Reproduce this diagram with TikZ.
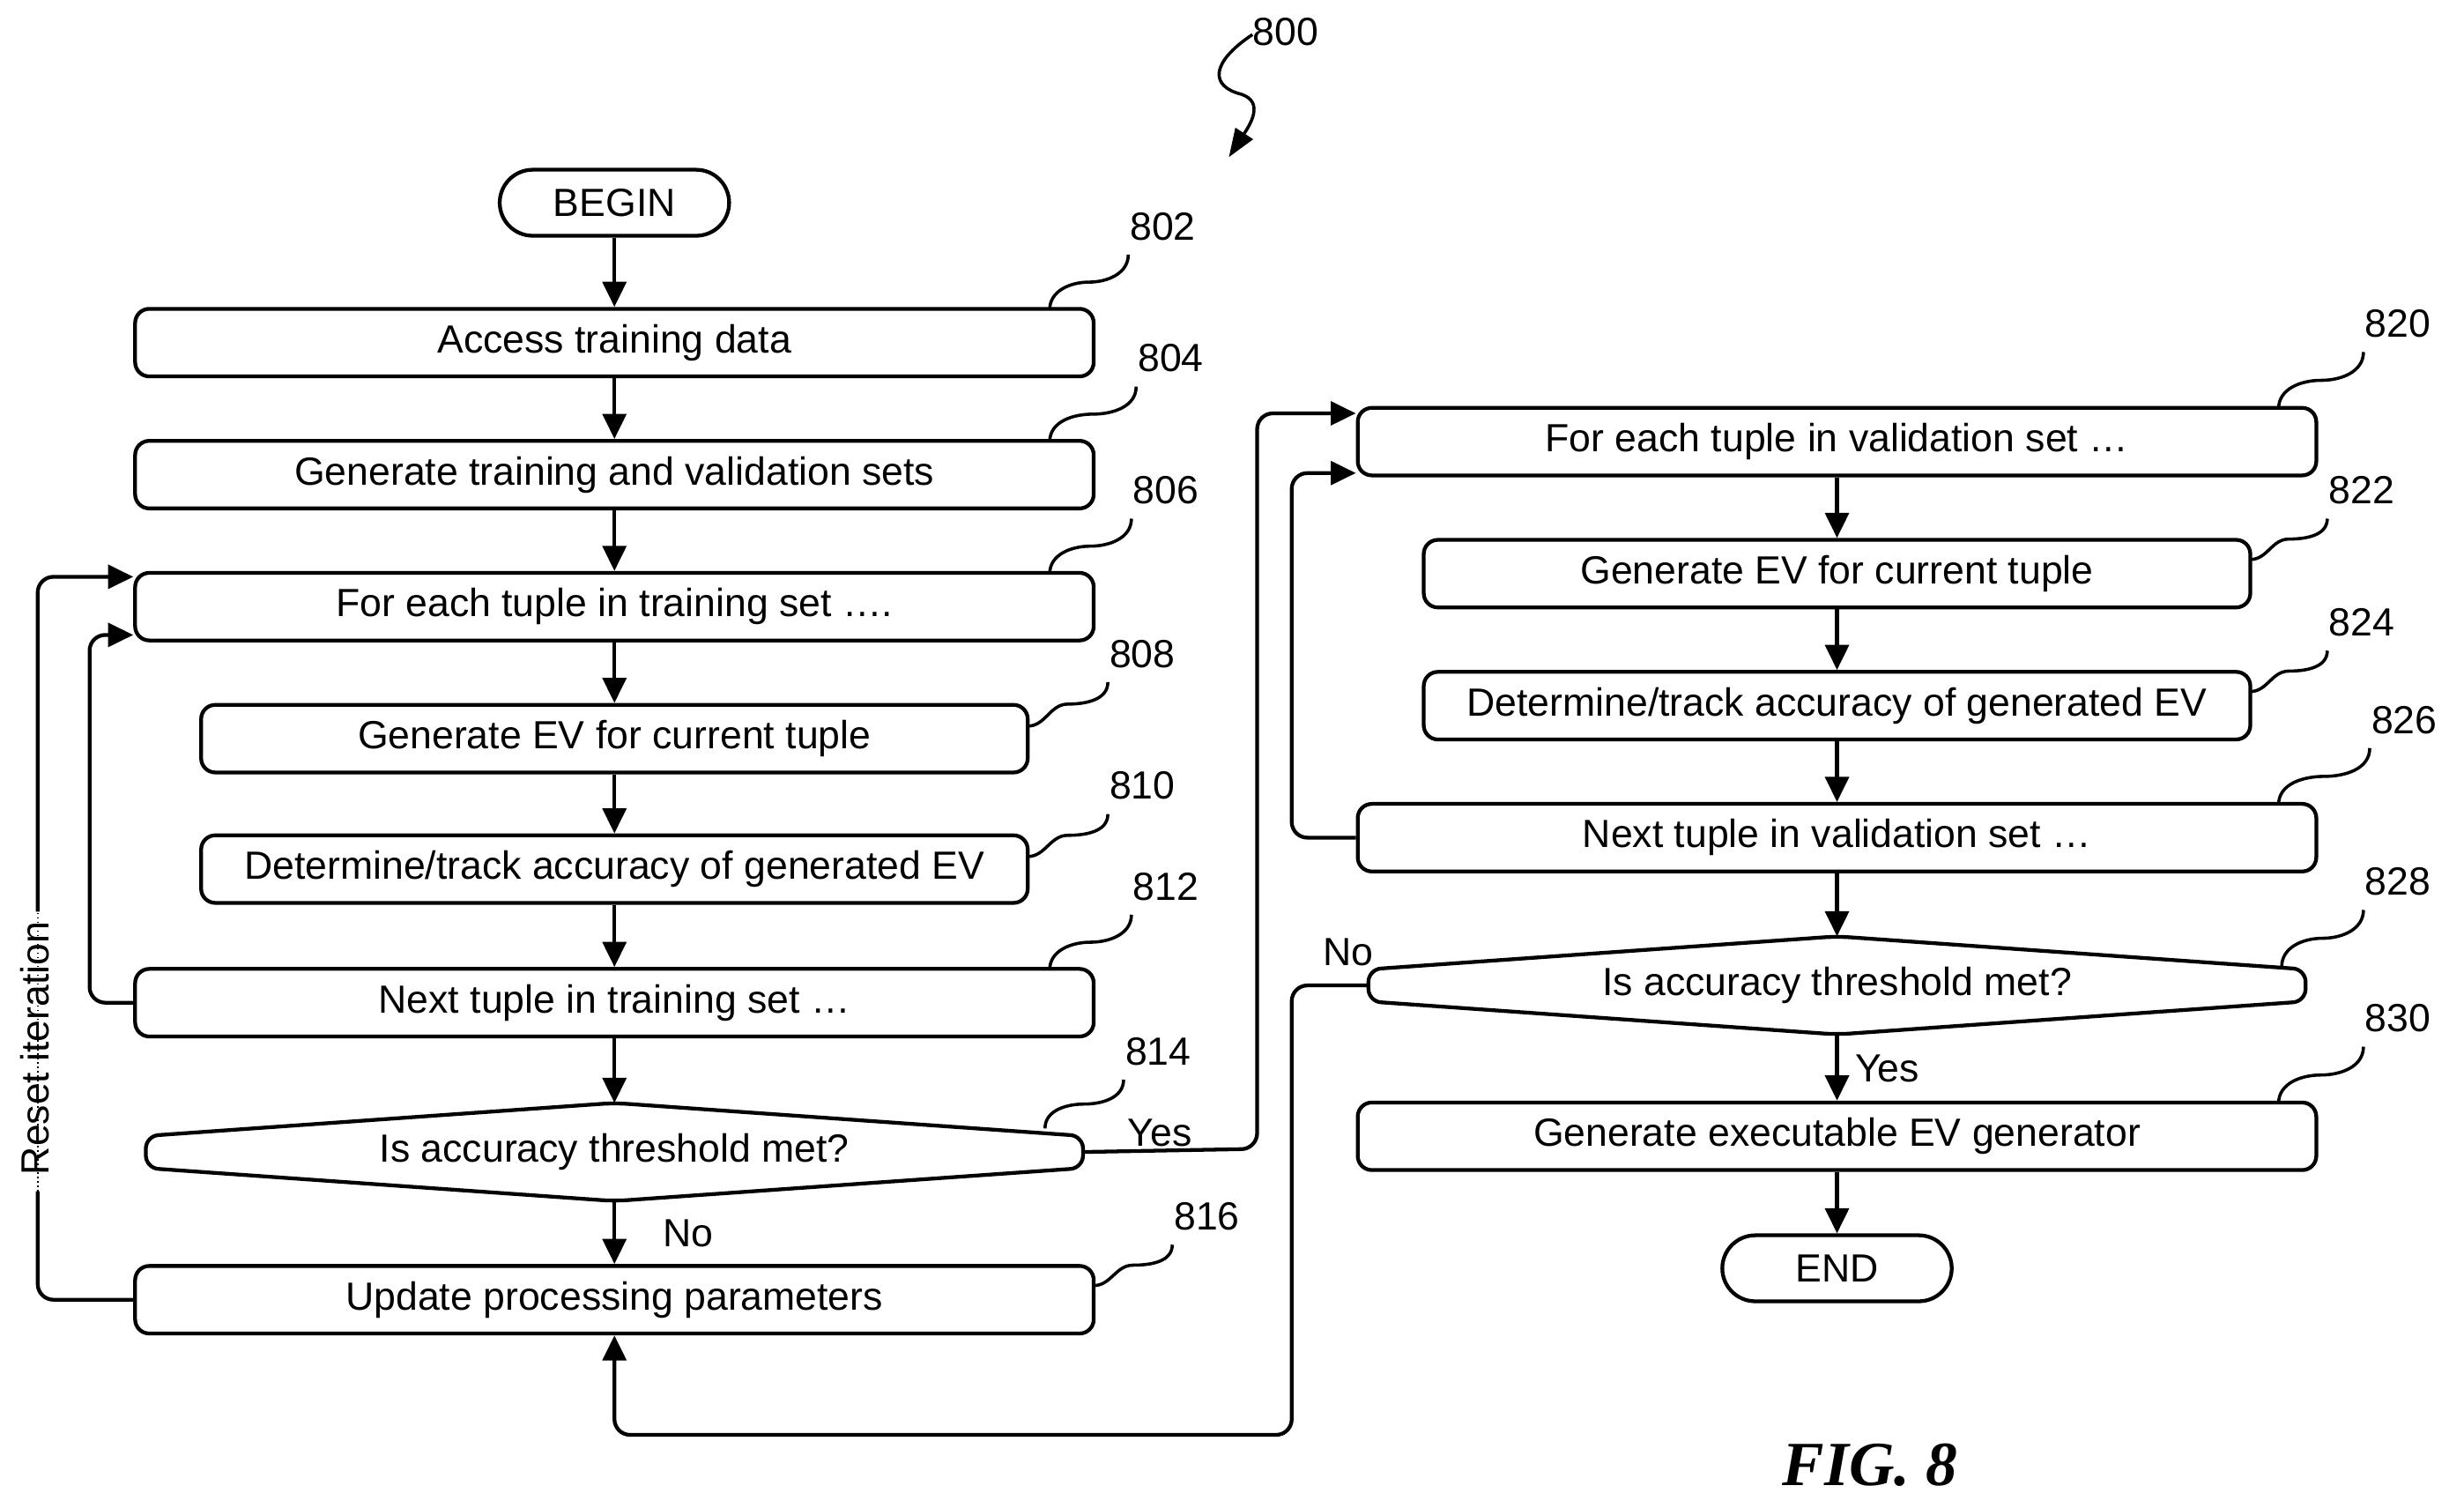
\documentclass[tikz,border=0pt]{standalone}
\usepackage{fontspec}
\setmainfont{Liberation Sans}
\newfontfamily\figfont{Liberation Serif}
\usetikzlibrary{arrows.meta,calc}
\begin{document}
\begin{tikzpicture}[x=1pt,y=-1pt,
  lw/.style={line width=2.4pt},
  box/.style={draw,lw,rounded corners=9pt,minimum height=43pt,inner sep=0pt,font=\fontsize{25}{27}\selectfont},
  term/.style={box,rounded corners=21pt,minimum width=146pt,minimum height=42pt},
  dia/.style={draw=none,minimum height=62pt,inner sep=0pt,font=\fontsize{25}{27}\selectfont},
  arr/.style={lw,-{Triangle[length=16pt,width=15pt]}},
  con/.style={lw,rounded corners=10pt},
  lbl/.style={font=\fontsize{25}{27}\selectfont,inner sep=0pt},
  lead/.style={line width=2pt}]
\useasboundingbox (0,0) rectangle (1568,959);
% nodes
\node[term] (begin) at (391,129) {BEGIN};
\node[box,minimum width=610pt] (a802) at (391,218) {Access training data};
\node[box,minimum width=610pt] (a804) at (391,302) {Generate training and validation sets};
\node[box,minimum width=610pt] (a806) at (391,386) {For each tuple in training set \dots.};
\node[box,minimum width=526pt] (a808) at (391,470) {Generate EV for current tuple};
\node[box,minimum width=526pt] (a810) at (391,553) {Determine/track accuracy of generated EV};
\node[box,minimum width=610pt] (a812) at (391,638) {Next tuple in training set \dots};
\node[dia,minimum width=596pt] (d814) at (391,733) {Is accuracy threshold met?};
\node[box,minimum width=610pt] (a816) at (391,827) {Update processing parameters};
\node[box,minimum width=610pt] (a820) at (1169,281) {For each tuple in validation set \dots};
\node[box,minimum width=526pt] (a822) at (1169,365) {Generate EV for current tuple};
\node[box,minimum width=526pt] (a824) at (1169,449) {Determine/track accuracy of generated EV};
\node[box,minimum width=610pt] (a826) at (1169,533) {Next tuple in validation set \dots};
\node[dia,minimum width=596pt] (d828) at (1169,627) {Is accuracy threshold met?};
\node[box,minimum width=610pt] (a830) at (1169,723) {Generate executable EV generator};
\node[term] (end) at (1169,807) {END};
% diamonds
\foreach \d in {d814,d828}{
  \draw[lw,rounded corners=8pt] (\d.north) -- ([yshift=-21pt]\d.north east) -- ([yshift=21pt]\d.south east) -- (\d.south) -- ([yshift=21pt]\d.south west) -- ([yshift=-21pt]\d.north west) -- cycle;
}
% vertical arrows
\draw[arr] (begin) -- (a802);
\draw[arr] (a802) -- (a804);
\draw[arr] (a804) -- (a806);
\draw[arr] (a806) -- (a808);
\draw[arr] (a808) -- (a810);
\draw[arr] (a810) -- (a812);
\draw[arr] (a812) -- (d814);
\draw[arr] (d814) -- (a816);
\draw[arr] (a820) -- (a822);
\draw[arr] (a822) -- (a824);
\draw[arr] (a824) -- (a826);
\draw[arr] (a826) -- (d828);
\draw[arr] (d828) -- (a830);
\draw[arr] (a830) -- (end);
% loops
\coordinate (l1) at (57,638);
\draw[arr,rounded corners=10pt] (a812.west) -- (l1) |- ([yshift=-18pt]a806.west);
\coordinate (r1) at (24,827);
\coordinate (r2) at (24,580);
\coordinate (r3) at (24,758);
\draw[con] (a816.west) -- (r1) -- (r3);
\draw[line width=0.8pt,dotted] (r3) -- (r2);
\draw[arr,rounded corners=10pt] (r2) |- ([yshift=19pt]a806.west);
\node[lbl,rotate=90] at (22,667) {Reset iteration};
\coordinate (y1) at (800,731);
\draw[arr,rounded corners=10pt] (d814.east) -- (y1) |- ([yshift=18pt]a820.west);
\coordinate (n1) at (822,533);
\draw[arr,rounded corners=10pt] (a826.west) -- (n1) |- ([yshift=-20pt]a820.west);
\coordinate (n2) at (822,627);
\coordinate (n3) at (391,913);
\draw[arr,rounded corners=10pt] (d828.west) -- (n2) |- (n3) -- (a816.south);
% branch labels
\node[lbl] at (738,721) {Yes};
\node[lbl] at (438,785) {No};
\node[lbl] at (858,606) {No};
\node[lbl] at (1201,680) {Yes};
% reference numerals with leaders
\foreach \sx/\sy/\lx/\ly/\t in {668/197/740/144/802, 668/281/745/228/804, 668/365/742/312/806, 668/617/742/564/812, 1450/260/1526/206/820, 1450/512/1530/458/826, 1450/702/1526/648/830, 665/718/737/669/814, 1452/615/1526/561/828}{
  \draw[lead] (\sx,\sy) to[out=90,in=180] ($(\sx,\sy)!.5!(\lx-22,\ly+18)$) to[out=0,in=-90] (\lx-22,\ly+18);
  \node[lbl] at (\lx,\ly) {\t};
}
\foreach \sx/\sy/\lx/\ly/\t in {654/462/727/416/808, 654/545/727/500/810, 696/818/768/774/816, 1432/356/1503/312/822, 1432/440/1503/396/824}{
  \draw[lead] (\sx,\sy) to[out=0,in=180] ($(\sx,\sy)!.5!(\lx-22,\ly+18)$) to[out=0,in=-90] (\lx-22,\ly+18);
  \node[lbl] at (\lx,\ly) {\t};
}
% 800
\node[lbl] (l800) at (818,20) {800};
\coordinate (s800) at (797,22);
\coordinate (e800) at (782,100);
\draw[lead,-{Triangle[length=18pt,width=13pt]}] (s800) .. controls (770,40) and (770,55) .. (790,60) .. controls (805,65) and (795,80) .. (e800);
\node[font=\figfont\bfseries\itshape\fontsize{40}{44}\selectfont] at (1190,932) {FIG. 8};
\end{tikzpicture}
\end{document}
